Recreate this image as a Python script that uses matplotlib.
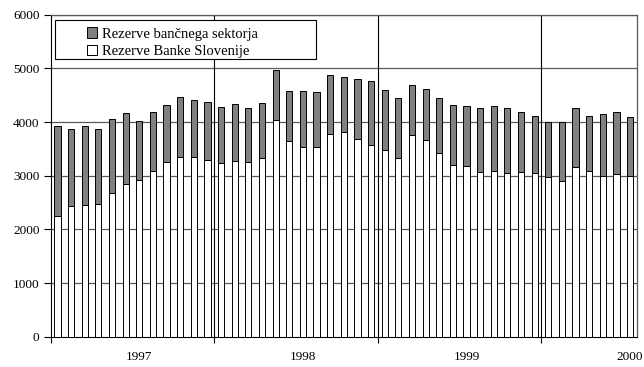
"""Rezerve bančnega sektorja / Banke Slovenije, monthly 1997-2000 (stacked bars)."""
import numpy as np
import matplotlib.pyplot as plt
import matplotlib
from matplotlib.patches import Rectangle

matplotlib.rcParams['font.family'] = ['Liberation Serif', 'DejaVu Serif']

# Jan 1997 .. Jul 2000, monthly
totals = [3920, 3876, 3932, 3864, 4062, 4162, 4013, 4181, 4323, 4460, 4416, 4379,
          4274, 4330, 4267, 4348, 4963, 4578, 4578, 4565, 4882, 4839, 4796, 4764,
          4602, 4454, 4695, 4609, 4454, 4323, 4304, 4261, 4292, 4261, 4181, 4106,
          4000, 3994, 4255, 4118, 4143, 4193, 4100]
banka_slovenije = [2243, 2430, 2448, 2472, 2677, 2840, 2920, 3087, 3261, 3354, 3342, 3298,
                   3231, 3268, 3261, 3330, 4032, 3640, 3540, 3528, 3771, 3820, 3684, 3566,
                   3473, 3330, 3764, 3659, 3428, 3199, 3175, 3075, 3093, 3044, 3075, 3056,
                   2975, 2907, 3168, 3087, 3000, 3037, 3000]
year_labels = ["1997", "1998", "1999", "2000"]

bs = np.array(banka_slovenije)
bancni = np.array(totals) - bs
x = np.arange(len(bs))

fig = plt.figure(figsize=(6.44, 3.67), dpi=100)
ax = fig.add_axes([0.0787, 0.0826, 0.9103, 0.8774])

w = 0.45
ax.bar(x, bs, width=w, color="white", edgecolor="black", linewidth=0.7, zorder=3,
       label="Rezerve Banke Slovenije")
ax.bar(x, bancni, bottom=bs, width=w, color="#808080", edgecolor="black", linewidth=0.7,
       zorder=3, label="Rezerve bančnega sektorja")

ax.set_xlim(-0.5, len(bs) - 0.5)
ax.set_ylim(0, 6000)
ax.set_yticks(range(0, 6001, 1000))
for yv in range(1000, 6001, 1000):
    ax.axhline(yv, color="#5a5a5a", linewidth=0.9, zorder=1)
for xv in [11.5, 23.5, 35.5]:
    ax.axvline(xv, color="black", linewidth=0.8, zorder=1)

ax.set_xticks([-0.5, 11.5, 23.5, 35.5])
ax.set_xticklabels([])
ax.set_xticks([6, 18, 30, 42], minor=True)
ax.set_xticklabels(year_labels, minor=True)
ax.tick_params(axis="x", which="major", direction="out", length=4, width=0.8)
ax.tick_params(axis="x", which="minor", length=0, pad=10, labelsize=9.5)
ax.tick_params(axis="y", direction="out", length=5, width=0.8, labelsize=9.5, pad=3)

for s in ["top", "right"]:
    ax.spines[s].set_color("#5a5a5a")
    ax.spines[s].set_linewidth(0.9)
ax.spines["left"].set_linewidth(0.8)
ax.spines["bottom"].set_linewidth(0.8)

# legend frame drawn wide like the original
ax.add_patch(Rectangle((0.007, 0.862), 0.446, 0.123, transform=ax.transAxes,
                       facecolor="white", edgecolor="black", linewidth=0.8, zorder=5))
handles, labels = ax.get_legend_handles_labels()
leg = ax.legend(handles[::-1], labels[::-1], loc="upper left",
                bbox_to_anchor=(0.045, 0.992), frameon=False, fontsize=10.5,
                handlelength=0.7, handleheight=0.7, handletextpad=0.3,
                labelspacing=0.3, borderpad=0.2)
leg.set_zorder(6)

plt.savefig("out.png", dpi=100)
